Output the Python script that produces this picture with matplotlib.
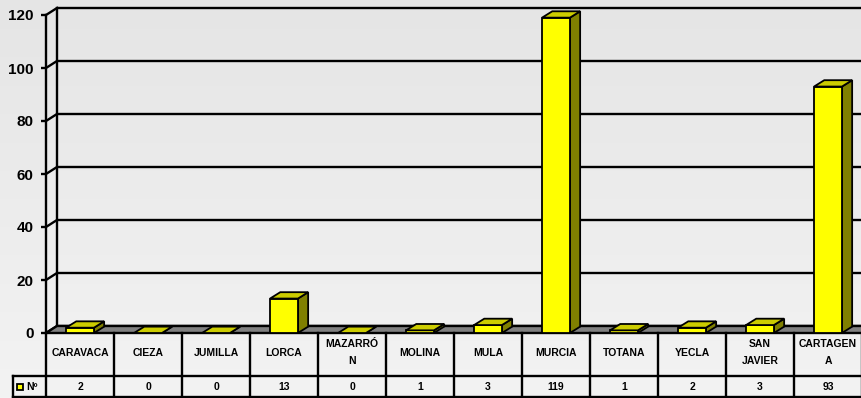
import matplotlib
matplotlib.use("Agg")
import matplotlib.pyplot as plt
import numpy as np
from matplotlib.patches import Polygon, Rectangle
from matplotlib.colors import LinearSegmentedColormap

plt.rcParams['font.family'] = ['Liberation Sans', 'DejaVu Sans']

# Data
categories = ["CARAVACA", "CIEZA", "JUMILLA", "LORCA", "MAZARRÓ\nN", "MOLINA",
              "MULA", "MURCIA", "TOTANA", "YECLA", "SAN\nJAVIER", "CARTAGEN\nA"]
values = [2, 0, 0, 13, 0, 1, 3, 119, 1, 2, 3, 93]
series_name = "Nº"
y_ticks = [0, 20, 40, 60, 80, 100, 120]

# Styling
bg_top, bg_bottom = "#e5e5e5", "#f3f3f3"
floor_col = "#808080"
front_col = "#ffff00"
top_col = "#cccc00"
side_col = "#808000"
lw = 1.7

W, H = 861, 398
fig = plt.figure(figsize=(W / 100, H / 100), dpi=100, facecolor=bg_top)

# soft vertical gradient behind the whole chart
bg = fig.add_axes([0, 0, 1, 1], zorder=-10)
bg.axis("off")
grad_cmap = LinearSegmentedColormap.from_list("bg", [bg_top, bg_bottom])
bg.imshow(np.linspace(0, 1, 256).reshape(-1, 1), cmap=grad_cmap, aspect="auto",
          extent=[0, 1, 0, 1], origin="upper")

# plot region in pixels
px_left, px_right = 46, 862
px_zero, px_top = 333, 15
ax = fig.add_axes([px_left / W, (H - px_zero) / H,
                   (px_right - px_left) / W, (px_zero - px_top) / H])
ax.set_xlim(-0.5, len(categories) - 0.5)
ax.set_ylim(0, 120)
ax.patch.set_visible(False)
for s in ("top", "right", "bottom"):
    ax.spines[s].set_visible(False)
ax.spines["left"].set_linewidth(lw)
ax.set_xticks([])
ax.set_yticks(y_ticks)
ax.set_yticklabels([str(t) for t in y_ticks], fontsize=11, fontweight="bold")
ax.tick_params(axis="y", length=3.8, width=lw, pad=5)

# depth offsets (data units)
dx, dy = 0.162, 2.65
bdx, bdy = 0.15, 2.4
x0, x1 = -0.5, len(categories) - 0.5

# wall grid
for t in y_ticks:
    ax.plot([x0 + dx, x1 + dx], [t + dy, t + dy], color="black", lw=lw, zorder=1,
            clip_on=False, solid_capstyle="butt")
    ax.plot([x0, x0 + dx], [t, t + dy], color="black", lw=lw, zorder=1, clip_on=False)
ax.plot([x0 + dx, x0 + dx], [dy, 120 + dy], color="black", lw=lw, zorder=1, clip_on=False)

# floor
ax.add_patch(Polygon([(x0, 0), (x1, 0), (x1 + dx, dy), (x0 + dx, dy)], closed=True,
                     facecolor=floor_col, edgecolor="black", lw=lw, zorder=2, clip_on=False))

# 3D bars
bw = 0.41
for i, v in enumerate(values):
    l, r = i - bw / 2, i + bw / 2
    ax.bar(i, v, width=bw, color=front_col, edgecolor="black", lw=1.3, zorder=4, clip_on=False)
    ax.add_patch(Polygon([(r, 0), (r + bdx, bdy), (r + bdx, v + bdy), (r, v)], closed=True,
                         facecolor=side_col, edgecolor="black", lw=1.3, zorder=3, clip_on=False))
    ax.add_patch(Polygon([(l, v), (r, v), (r + bdx, v + bdy), (l + bdx, v + bdy)], closed=True,
                         facecolor=top_col, edgecolor="black", lw=1.3, zorder=5, clip_on=False))

# data table
tab_top, tab_bot = 333, 397
tab = fig.add_axes([px_left / W, (H - tab_bot) / H,
                    (px_right - px_left) / W, (tab_bot - tab_top) / H])
tab.set_xlim(x0, x1)
tab.set_ylim(tab_bot - tab_top, 0)
tab.axis("off")
row_split = 43
row_bottom = tab_bot - tab_top
label_x0 = x0 - (px_left - 13) / 68.0
tab.plot([label_x0, x1], [row_split, row_split], color="black", lw=lw, clip_on=False)
tab.plot([label_x0, x1], [row_bottom, row_bottom], color="black", lw=lw, clip_on=False)
tab.plot([label_x0, label_x0], [row_split, row_bottom], color="black", lw=lw, clip_on=False)
for k in range(len(categories) + 1):
    tab.plot([x0 + k, x0 + k], [0, row_bottom], color="black", lw=lw, clip_on=False)
for i, (c, v) in enumerate(zip(categories, values)):
    tab.text(i, row_split / 2 - 2, c, ha="center", va="center", fontsize=7.5,
             fontweight="bold", linespacing=1.8)
    tab.text(i, (row_split + row_bottom) / 2, str(v), ha="center", va="center",
             fontsize=7.5, fontweight="bold")

# legend key in the table
key_x = x0 - (px_left - 17) / 68.0
tab.add_patch(Rectangle((key_x, 50.5), 6 / 68.0, 6.5, facecolor=front_col,
                        edgecolor="black", lw=1.3, clip_on=False))
tab.text(x0 - (px_left - 26) / 68.0, 54, series_name, ha="left", va="center",
         fontsize=7.5, fontweight="bold")

fig.savefig("out.png", dpi=100)
